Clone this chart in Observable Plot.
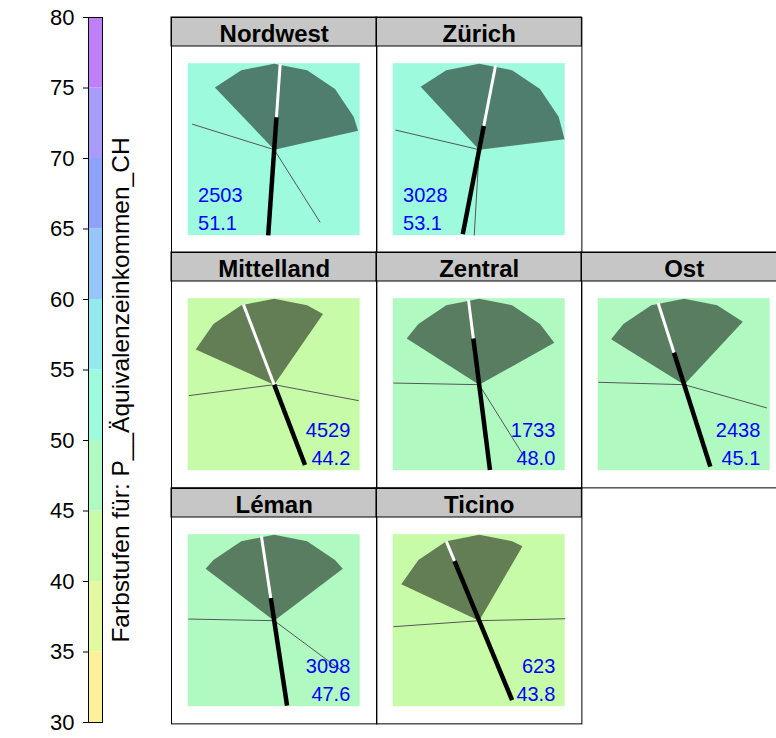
<!DOCTYPE html>
<html>
<head>
<meta charset="utf-8">
<script src="https://cdn.jsdelivr.net/npm/d3@7"></script>
<script src="https://cdn.jsdelivr.net/npm/@observablehq/plot@0.6"></script>
<style>
  html, body { margin: 0; padding: 0; background: white; }
  #root { position: relative; width: 776px; height: 738px; overflow: hidden; background: white; }
  #root svg { position: absolute; }
</style>
</head>
<body>
<div id="root"></div>
<script>
// ---------------- data ----------------
const regions     = ["Nordwest", "Zürich", "Mittelland", "Zentral", "Ost", "Léman", "Ticino"];
const layoutOrder = ["Nordwest", "Zürich", null, "Mittelland", "Zentral", "Ost", "Léman", "Ticino", null];
const counts      = [2503, 3028, 4529, 1733, 2438, 3098, 623];
const values      = [51.1, 53.1, 44.2, 48.0, 45.1, 47.6, 43.8];
// fan (sector) start / end angles, degrees
const fanFrom     = [133.6, 132.9, 155.9, 147.5, 148.2, 142.9, 155.0];
const fanTo       = [12.7, 6.9, 55.4, 29.1, 47.0, 37.1, 59.8];
// needle direction (degrees) and split point between black and white part
const needleAngle = [86.0, 79.0, 111.0, 97.2, 107.7, 98.6, 112.5];
const needleSplit = [0.376, 0.28, 0.0, 0.54, 0.39, 0.265, 0.75];
// thin rays (degrees)
const rayA        = [162.7, 166.8, 187.3, 178.9, 178.4, 178.9, 184.0];
const rayB        = [-57.7, -93.3, -10.7, -58.0, -15.7, -36.6, 1.3];
// colour key
const legendTicks = [30, 35, 40, 45, 50, 55, 60, 65, 70, 75, 80];
const colorBreaks = [35, 40, 45, 50, 55, 60, 65, 70, 75];
const bandColors  = ["#fcf09a", "#e3f9a0", "#c7fba8", "#b0fac2", "#9efadc",
                     "#94e9ef", "#96c6f8", "#8da3fa", "#a99bfa", "#bf7ffb"];
const legendTitle = "Farbstufen für: P__Äquivalenzeinkommen_CH";

// ---------------- helpers ----------------
const FONT = "Liberation Sans, Arial, Helvetica, sans-serif";
const colorOpts = {type: "threshold", domain: colorBreaks, range: bandColors};
const rad = Math.PI / 180;
const pt = (a, r) => ({x: r * Math.cos(a * rad), y: r * Math.sin(a * rad)});
const root = document.getElementById("root");

// ---------------- colour key ----------------
const bands = legendTicks.slice(0, -1).map((lo, i) => ({lo, hi: legendTicks[i + 1]}));
const legend = Plot.plot({
  width: 170, height: 738,
  marginLeft: 88, marginRight: 68, marginTop: 17, marginBottom: 16,
  x: {domain: [0, 1], axis: null},
  y: {domain: [30, 80]},
  color: colorOpts,
  style: {background: "transparent", overflow: "visible", fontFamily: FONT, color: "black"},
  marks: [
    Plot.rect(bands, {x1: 0, x2: 1, y1: "lo", y2: "hi", fill: "lo"}),
    Plot.frame({stroke: "black", strokeWidth: 1}),
    Plot.axisY({anchor: "left", ticks: legendTicks, tickSize: 5, tickPadding: 9, fontSize: 22, label: null}),
    Plot.text([legendTitle], {text: d => d, frameAnchor: "middle", rotate: -90, dx: 26, dy: 20,
      fontSize: 24.5, fill: "black"})
  ]
});
legend.style.left = "0px";
legend.style.top = "0px";
root.appendChild(legend);

// ---------------- panels ----------------
const W = 205.4, H = 235.4, S = 29, U = 86;
function panel(i) {
  const xh = W / 2 / U;
  const yb = -(H - S) / 2 / U;
  const yt = yb + H / U;
  const ys = -yb;                       // bottom of the strip
  // fan polygon: centre, arc with vertices at multiples of 22.5°
  const a0 = fanFrom[i], a1 = fanTo[i];
  const fan = [pt(0, 0), pt(a0, 1)];
  for (let k = Math.floor(a0 / 22.5); k * 22.5 > a1; k--) {
    const a = k * 22.5;
    if (a < a0 && a > a1) fan.push(pt(a, 1));
  }
  fan.push(pt(a1, 1));
  const th = needleAngle[i], sp = needleSplit[i];
  const c = Math.cos(th * rad), s = Math.sin(th * rad);
  const side = c > 0 ? -1 : 1;          // labels opposite to the needle foot
  const anchor = side < 0 ? "start" : "end";
  const labels = [
    {t: String(counts[i]), y: -1 + 34 / U},
    {t: values[i].toFixed(1), y: -1 + 5.5 / U}
  ];
  return Plot.plot({
    width: W, height: H, margin: 0,
    x: {domain: [-xh, xh], axis: null},
    y: {domain: [yb, yt], axis: null},
    color: colorOpts,
    style: {background: "transparent", overflow: "visible", fontFamily: FONT, color: "black"},
    marks: [
      Plot.rect([values[i]], {x1: -1, x2: 1, y1: -1, y2: 1, fill: d => d}),
      Plot.line(fan, {x: "x", y: "y", fill: "black", fillOpacity: 0.5, stroke: "none", curve: "linear"}),
      Plot.link([rayA[i], rayB[i]], {x1: 0, y1: 0, x2: a => Math.cos(a * rad), y2: a => Math.sin(a * rad),
        stroke: "#555", strokeWidth: 1}),
      Plot.link([sp], {x1: t => t * c, y1: t => t * s, x2: c, y2: s, stroke: "white", strokeWidth: 3}),
      Plot.link([sp], {x1: -c, y1: -s, x2: t => t * c, y2: t => t * s, stroke: "black", strokeWidth: 4.5}),
      Plot.text(labels, {x: side * 0.885, y: "y", text: "t", textAnchor: anchor, lineAnchor: "bottom",
        fill: "#0000ff", fontSize: 20}),
      Plot.rect([regions[i]], {x1: -xh, x2: xh, y1: ys, y2: yt, fill: "#c6c6c6", stroke: "black", strokeWidth: 1}),
      Plot.text([regions[i]], {x: 0, y: ys + 4.5 / U, text: d => d, lineAnchor: "bottom",
        fontSize: 24, fontWeight: "bold", fill: "black"}),
      Plot.frame({stroke: "black", strokeWidth: 1})
    ]
  });
}

layoutOrder.forEach((name, k) => {
  if (name == null) return;
  const i = regions.indexOf(name);
  const col = k % 3, row = Math.floor(k / 3);
  const svg = panel(i);
  svg.style.left = (170.5 + col * W) + "px";
  svg.style.top = (17 + row * H) + "px";
  root.appendChild(svg);
});
</script>
</body>
</html>
